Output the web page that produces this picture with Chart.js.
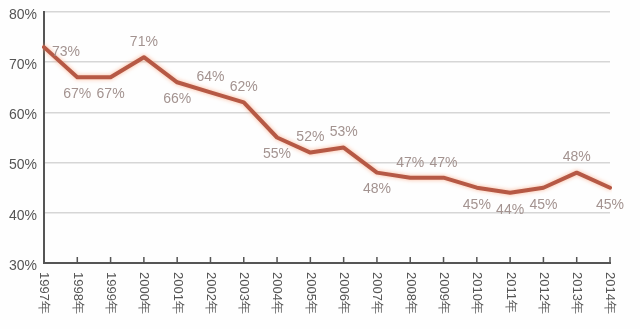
<!DOCTYPE html>
<html>
<head>
<meta charset="utf-8">
<script src="https://cdn.jsdelivr.net/npm/chart.js@4/dist/chart.umd.min.js"></script>
<style>
  html, body { margin: 0; padding: 0; background: #fefefe; }
  #wrap { width: 640px; height: 329px; }
</style>
</head>
<body>
<div id="wrap"><canvas id="c" width="640" height="329"></canvas></div>
<script>
// Share by year (%)
const years = ['1997年','1998年','1999年','2000年','2001年','2002年','2003年','2004年','2005年',
               '2006年','2007年','2008年','2009年','2010年','2011年','2012年','2013年','2014年'];
const shares = [73, 67, 67, 71, 66, 64, 62, 55, 52, 53, 48, 47, 47, 45, 44, 45, 48, 45];
const yTicks = [30, 40, 50, 60, 70, 80];
// where each value label sits relative to its point: a = above, b = below, r = right
const labelSide = ['r','b','b','a','b','a','a','b','a','a','b','a','a','b','b','b','a','b'];

const FONT = '"Liberation Sans", Arial, sans-serif';

// soft orange halo under the line
const glow = {
  id: 'glow',
  beforeDatasetDraw(chart) {
    const ctx = chart.ctx;
    ctx.save();
    ctx.shadowColor = 'rgba(250,165,125,0.8)';
    ctx.shadowBlur = 4;
  },
  afterDatasetDraw(chart) { chart.ctx.restore(); }
};

// value labels, vertical year labels and upward x ticks
const annotate = {
  id: 'annotate',
  afterDraw(chart) {
    const ctx = chart.ctx;
    const xs = chart.scales.x, ys = chart.scales.y;
    const meta = chart.getDatasetMeta(0);
    ctx.save();
    // x ticks pointing into the plot
    ctx.strokeStyle = '#555';
    ctx.lineWidth = 1.5;
    years.forEach((_, i) => {
      const x = xs.getPixelForTick(i);
      ctx.beginPath();
      ctx.moveTo(x, ys.bottom);
      ctx.lineTo(x, ys.bottom - 6);
      ctx.stroke();
    });
    // year labels, reading top to bottom
    ctx.fillStyle = '#555';
    ctx.font = '13px ' + FONT;
    ctx.textAlign = 'left';
    ctx.textBaseline = 'middle';
    years.forEach((t, i) => {
      const x = xs.getPixelForTick(i);
      ctx.save();
      ctx.translate(x, ys.bottom + 9);
      ctx.rotate(Math.PI / 2);
      ctx.fillText(t, 0, 0);
      ctx.restore();
    });
    // value labels
    ctx.fillStyle = '#a39390';
    ctx.font = '14px ' + FONT;
    ctx.textBaseline = 'middle';
    meta.data.forEach((pt, i) => {
      const txt = shares[i] + '%';
      const side = labelSide[i];
      if (side === 'r') {
        ctx.textAlign = 'left';
        ctx.fillText(txt, pt.x + 8, pt.y + 5);
      } else if (side === 'a') {
        ctx.textAlign = 'center';
        ctx.fillText(txt, pt.x, pt.y - 15);
      } else {
        ctx.textAlign = 'center';
        ctx.fillText(txt, pt.x, pt.y + 17);
      }
    });
    ctx.restore();
  }
};

new Chart(document.getElementById('c'), {
  type: 'line',
  data: {
    labels: years,
    datasets: [{
      data: shares,
      borderColor: '#b65945',
      borderWidth: 4,
      tension: 0,
      pointRadius: 0,
      borderJoinStyle: 'round',
      borderCapStyle: 'round',
      fill: false
    }]
  },
  options: {
    responsive: false,
    animation: false,
    events: [],
    layout: { padding: { top: 12, right: 30, bottom: 66, left: 0 } },
    plugins: { legend: { display: false }, tooltip: { enabled: false } },
    scales: {
      x: {
        offset: false,
        ticks: { display: false },
        grid: { display: false, drawTicks: false },
        border: { display: true, color: '#555', width: 2 },
        afterFit(s) { s.height = 0; s.paddingLeft = 0; s.paddingRight = 0; }
      },
      y: {
        min: 30, max: 80,
        afterBuildTicks(s) { s.ticks = yTicks.map(v => ({ value: v })); },
        afterFit(s) { s.width = 44; s.paddingTop = 0; s.paddingBottom = 0; },
        ticks: {
          padding: 7,
          labelOffset: 3,
          color: '#555',
          font: { family: FONT, size: 14 },
          callback: v => v + '%'
        },
        grid: { color: '#d6d6d6', lineWidth: 1.5, drawTicks: false },
        border: { display: true, color: '#555', width: 2 }
      }
    }
  },
  plugins: [glow, annotate]
});
</script>
</body>
</html>
